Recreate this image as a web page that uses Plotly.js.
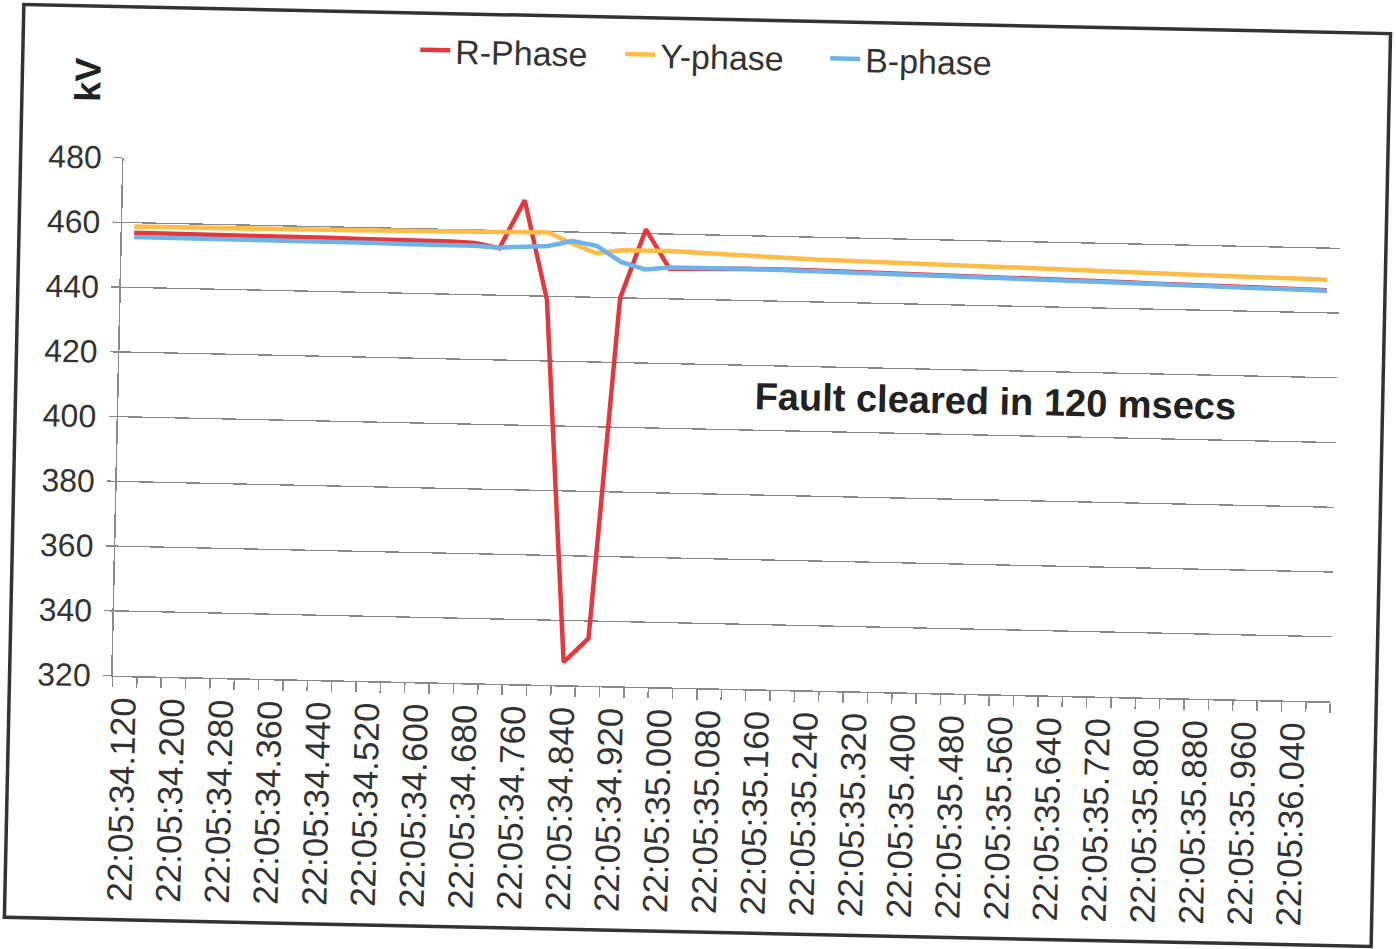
<!DOCTYPE html>
<html>
<head>
<meta charset="utf-8">
<script src="https://cdn.plot.ly/plotly-3.0.1.min.js"></script>
<style>
  html, body { margin: 0; padding: 0; background: #ffffff; overflow: hidden; }
  #wrap { position: absolute; left: 0; top: 0; width: 1396px; height: 949px;
          transform: rotate(1.22deg); transform-origin: 698px 474px; }
  #chart { width: 1396px; height: 949px; }
</style>
</head>
<body>
<div id="wrap"><div id="chart"></div></div>
<script>
// Sample times (categories, 40 ms apart)
const times = [
  "22:05:34.120","22:05:34.160","22:05:34.200","22:05:34.240","22:05:34.280",
  "22:05:34.320","22:05:34.360","22:05:34.400","22:05:34.440","22:05:34.480",
  "22:05:34.520","22:05:34.560","22:05:34.600","22:05:34.640","22:05:34.680",
  "22:05:34.720","22:05:34.760","22:05:34.800","22:05:34.840","22:05:34.880",
  "22:05:34.920","22:05:34.960","22:05:35.000","22:05:35.040","22:05:35.080",
  "22:05:35.120","22:05:35.160","22:05:35.200","22:05:35.240","22:05:35.280",
  "22:05:35.320","22:05:35.360","22:05:35.400","22:05:35.440","22:05:35.480",
  "22:05:35.520","22:05:35.560","22:05:35.600","22:05:35.640","22:05:35.680",
  "22:05:35.720","22:05:35.760","22:05:35.800","22:05:35.840","22:05:35.880",
  "22:05:35.920","22:05:35.960","22:05:36.000","22:05:36.040","22:05:36.080"
];

// R-Phase voltage (kV)
const rPhase = [
  456.9, 456.9, 456.8, 456.8, 456.7, 456.7, 456.6, 456.6, 456.6, 456.5,
  456.5, 456.4, 456.4, 456.3, 456.0, 454.5, 469.5, 438.8, 327.1, 334.6,
  439.9, 461.3, 449.3, 449.3, 449.5, 449.8, 449.9, 449.8, 449.7, 449.6,
  449.4, 449.3, 449.2, 449.1, 449.0, 448.9, 448.7, 448.6, 448.5, 448.3,
  448.2, 448.1, 447.9, 447.8, 447.7, 447.5, 447.4, 447.3, 447.1, 447.0
];

// Y-phase voltage (kV)
const yPhase = [
  458.8, 458.8, 458.9, 458.9, 458.9, 459.0, 459.0, 459.0, 459.1, 459.1,
  459.2, 459.2, 459.3, 459.3, 459.4, 459.5, 459.7, 459.7, 456.4, 453.6,
  454.7, 454.9, 454.8, 454.5, 454.2, 453.8, 453.4, 453.3, 453.1, 453.0,
  452.8, 452.7, 452.5, 452.4, 452.3, 452.1, 452.0, 451.8, 451.7, 451.6,
  451.4, 451.3, 451.1, 451.0, 450.9, 450.7, 450.6, 450.4, 450.3, 450.2
];

// B-phase voltage (kV)
const bPhase = [
  455.6, 455.6, 455.5, 455.5, 455.5, 455.4, 455.4, 455.4, 455.3, 455.3,
  455.3, 455.2, 455.2, 455.2, 455.1, 454.7, 455.0, 455.5, 457.2, 455.9,
  451.1, 448.9, 449.7, 449.8, 449.8, 449.8, 449.7, 449.6, 449.5, 449.4,
  449.3, 449.1, 449.0, 448.9, 448.8, 448.7, 448.6, 448.4, 448.3, 448.2,
  448.0, 447.9, 447.8, 447.6, 447.5, 447.4, 447.2, 447.1, 447.0, 446.8
];

const seriesNames = ["R-Phase", "Y-phase", "B-phase"];
const yTicks = [320, 340, 360, 380, 400, 420, 440, 460, 480];
const noteText = "Fault cleared in 120 msecs";
const unitText = "kV";

const idx = times.map((t, i) => i);
const labelIdx = idx.filter(i => i % 2 === 0);
const labelText = labelIdx.map(i => times[i]);
const boundaries = idx.map(i => i - 0.5).concat([times.length - 0.5]);

const FONT = "'Liberation Sans', Arial, sans-serif";
const colors = ["#e5383d", "#fbbd48", "#6db3ea"];
const vals = [rPhase, yPhase, bPhase];

const traces = vals.map((v, k) => ({
  type: "scatter", mode: "lines", name: seriesNames[k],
  x: idx, y: v,
  line: { color: colors[k], width: 4.5 }
}));

const layout = {
  width: 1396, height: 949,
  margin: { l: 117, r: 61, t: 170, b: 261 },
  paper_bgcolor: "#ffffff", plot_bgcolor: "#ffffff",
  font: { family: FONT, color: "#333333" },
  showlegend: true,
  legend: {
    orientation: "h", x: 0.49, xanchor: "center", y: 1.22, yanchor: "middle",
    font: { family: FONT, size: 34, color: "#333333" },
    entrywidth: 160, entrywidthmode: "pixels",
    bgcolor: "rgba(0,0,0,0)"
  },
  xaxis: {
    range: [-0.5, times.length - 0.5],
    tickmode: "array", tickvals: labelIdx, ticktext: labelText,
    tickangle: -90, ticks: "", ticklabelstandoff: 6,
    tickfont: { family: FONT, size: 35, color: "#333333" },
    showgrid: false, zeroline: false,
    showline: true, linecolor: "#8a8a8a", linewidth: 1.5,
    minor: { tickmode: "array", tickvals: boundaries, ticks: "outside",
             ticklen: 10, tickwidth: 1.5, tickcolor: "#8a8a8a", showgrid: false }
  },
  yaxis: {
    range: [320, 480], tickmode: "array", tickvals: yTicks,
    ticks: "outside", ticklen: 8, tickwidth: 1.5, tickcolor: "#8a8a8a",
    ticklabelstandoff: 6,
    tickfont: { family: FONT, size: 32, color: "#333333" },
    showgrid: true, gridcolor: "#8a8a8a", gridwidth: 1.3,
    zeroline: false, showline: true, linecolor: "#8a8a8a", linewidth: 1.5
  },
  annotations: [
    { xref: "paper", yref: "paper", x: 0.72, y: 0.566, xanchor: "center", yanchor: "middle",
      text: "<b>" + noteText + "</b>", showarrow: false,
      font: { family: FONT, size: 38, color: "#222222" } },
    { xref: "paper", yref: "paper", x: -0.0304, y: 1.149, xanchor: "center", yanchor: "middle",
      text: "<b>" + unitText + "</b>", textangle: -90, showarrow: false,
      font: { family: FONT, size: 36, color: "#222222" } }
  ],
  shapes: [
    { type: "rect", xref: "paper", yref: "paper",
      x0: (14 - 117) / 1218, x1: (1381 - 117) / 1218,
      y0: (688 - 932) / 518, y1: (688 - 19) / 518,
      line: { color: "#333333", width: 3.5 }, fillcolor: "rgba(0,0,0,0)", layer: "below" }
  ]
};

Plotly.newPlot("chart", traces, layout, { displayModeBar: false, staticPlot: true });
</script>
</body>
</html>
